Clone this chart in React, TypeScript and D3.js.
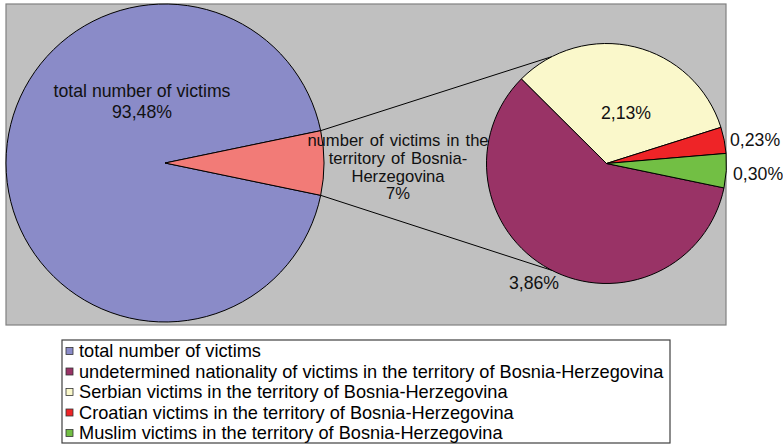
import React from "react";
import * as d3 from "d3";

// main pie
const mainNames = ["total number of victims", "number of victims in the territory of Bosnia-Herzegovina"];
const mainValues = [93.48, 6.52];
const mainTexts = ["93,48%", "7%"];
const mainColors = ["#8a8bc8", "#f27b77"];

// secondary pie (breakdown of the Bosnia-Herzegovina share)
const subNames = [
  "undetermined nationality of victims in the territory of Bosnia-Herzegovina",
  "Serbian victims in the territory of Bosnia-Herzegovina",
  "Croatian victims in the territory of Bosnia-Herzegovina",
  "Muslim victims in the territory of Bosnia-Herzegovina",
];
const subValues = [3.86, 2.13, 0.23, 0.3];
const subTexts = ["3,86%", "2,13%", "0,23%", "0,30%"];
const subColors = ["#993366", "#faf8cb", "#ee2427", "#72bf44"];

const legendNames = [mainNames[0], ...subNames];
const legendColors = [mainColors[0], ...subColors];

const W = 783;
const H = 445;
const FONT = "'Liberation Sans', Arial, sans-serif";

export default function App() {
  const plot = { x: 6, y: 4, w: 720, h: 321 };
  const big = { cx: 165, cy: 163, r: 159 };
  const small = { cx: 606.5, cy: 163.5, r: 120 };

  const total = d3.sum(mainValues);
  const otherAngle = (2 * Math.PI * mainValues[1]) / total;
  const start = Math.PI / 2 + otherAngle / 2;

  const mainArcs = d3.pie<number>().sort(null).startAngle(start).endAngle(start + 2 * Math.PI)(mainValues);
  const subArcs = d3.pie<number>().sort(null).startAngle(start).endAngle(start + 2 * Math.PI)(subValues);

  const bigArc = d3.arc<d3.PieArcDatum<number>>().innerRadius(0).outerRadius(big.r);
  const smallArc = d3.arc<d3.PieArcDatum<number>>().innerRadius(0).outerRadius(small.r);

  // connector lines: from the edges of the "other" slice to the secondary pie
  const other = mainArcs[1];
  const pt = (c: { cx: number; cy: number; r: number }, a: number) => [
    c.cx + c.r * Math.sin(a),
    c.cy - c.r * Math.cos(a),
  ];
  const endSpread = (117 * Math.PI) / 180;
  const up0 = pt(big, other.startAngle);
  const lo0 = pt(big, other.endAngle);
  const up1 = pt(small, Math.PI / 2 - endSpread);
  const lo1 = pt(small, Math.PI / 2 + endSpread);

  const lbl = 17.7;
  const lg = { x: 62, y: 340, w: 608, h: 103, row: 20.5 };

  return (
    <svg width={W} height={H} style={{ position: "absolute", left: 0, top: 0 }} fontFamily={FONT}>
      <rect x={0} y={0} width={W} height={H} fill="#fff" />
      <rect x={plot.x} y={plot.y} width={plot.w} height={plot.h} fill="#c0c0c0" stroke="#808080" strokeWidth={1.2} />

      <g transform={`translate(${big.cx},${big.cy})`}>
        {mainArcs.map((a, i) => (
          <path key={i} d={bigArc(a) ?? ""} fill={mainColors[i]} stroke="#000" strokeWidth={1} />
        ))}
      </g>

      <line x1={up0[0]} y1={up0[1]} x2={up1[0]} y2={up1[1]} stroke="#000" strokeWidth={1} />
      <line x1={lo0[0]} y1={lo0[1]} x2={lo1[0]} y2={lo1[1]} stroke="#000" strokeWidth={1} />

      <g transform={`translate(${small.cx},${small.cy})`}>
        {subArcs.map((a, i) => (
          <path key={i} d={smallArc(a) ?? ""} fill={subColors[i]} stroke="#000" strokeWidth={1} />
        ))}
      </g>

      {/* data labels */}
      <g fontSize={lbl} fill="#111" textAnchor="middle">
        <text x={big.cx - 23} y={97}>{mainNames[0]}</text>
        <text x={big.cx - 23} y={117.5}>{mainTexts[0]}</text>
        {["number of victims in the", "territory of Bosnia-", "Herzegovina", mainTexts[1]].map((s, i) => (
          <text key={i} x={398} y={146 + i * 17.8} fontSize={16.6} wordSpacing={1.5}>{s}</text>
        ))}
        <text x={626} y={118.5}>{subTexts[1]}</text>
        <text x={534} y={289}>{subTexts[0]}</text>
        <text x={730} y={146} textAnchor="start">{subTexts[2]}</text>
        <text x={733} y={180} textAnchor="start">{subTexts[3]}</text>
      </g>

      {/* legend */}
      <rect x={lg.x} y={lg.y} width={lg.w} height={lg.h} fill="#fff" stroke="#404040" strokeWidth={1.2} />
      {legendNames.map((n, i) => {
        const cy = lg.y + 11 + i * lg.row;
        return (
          <g key={i}>
            <rect x={66} y={cy - 3.5} width={7} height={7} fill={legendColors[i]} stroke="#333" strokeWidth={0.8} />
            <text x={79} y={cy + 6} fontSize={18.2} fill="#000">{n}</text>
          </g>
        );
      })}
    </svg>
  );
}
